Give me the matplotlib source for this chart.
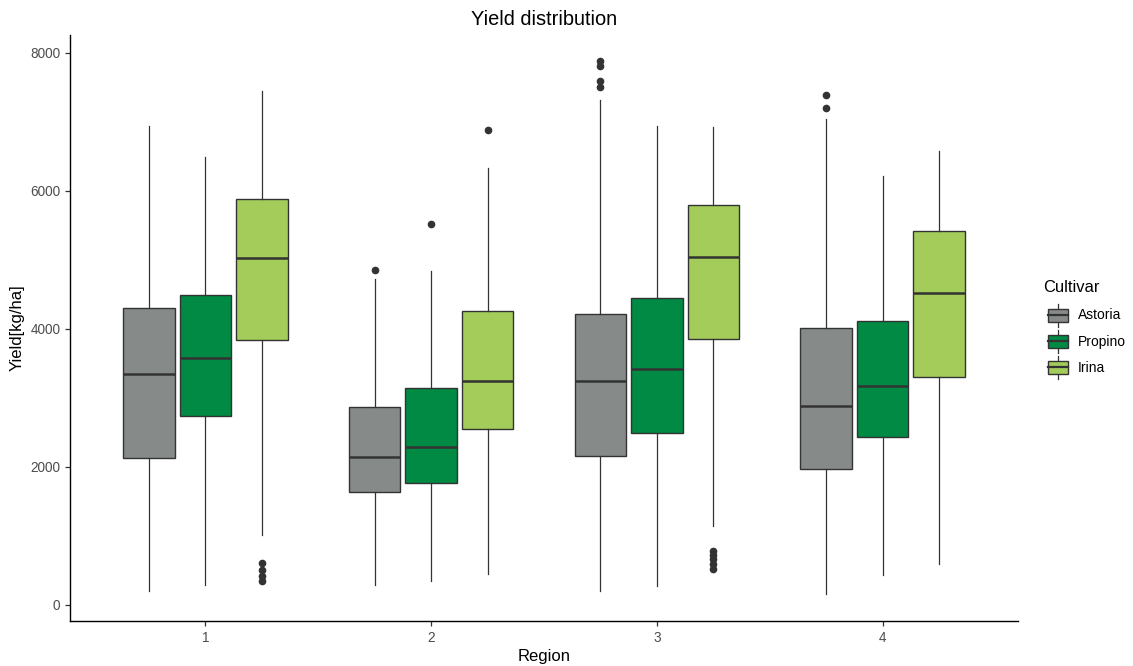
import matplotlib
matplotlib.use("Agg")
import matplotlib.pyplot as plt
from matplotlib.patches import Rectangle, Patch
from matplotlib.lines import Line2D
from matplotlib.legend_handler import HandlerBase

plt.rcParams["font.family"] = ["Liberation Sans", "DejaVu Sans"]

regions = [1, 2, 3, 4]
region_labels = ["1", "2", "3", "4"]
cultivars = ["Astoria", "Propino", "Irina"]
colors = ["#868B89", "#008A43", "#A3CC5A"]

# per cultivar, per region
astoria_whislo = [209, 290, 206, 162]
astoria_q1 = [2135, 1638, 2155, 1974]
astoria_med = [3354, 2145, 3249, 2890]
astoria_q3 = [4300, 2872, 4223, 4014]
astoria_whishi = [6948, 4728, 7320, 7048]
astoria_fliers = [[], [4861], [7878, 7813, 7588, 7503], [7384, 7207]]

propino_whislo = [290, 353, 275, 435]
propino_q1 = [2733, 1763, 2499, 2439]
propino_med = [3578, 2285, 3415, 3178]
propino_q3 = [4499, 3140, 4454, 4111]
propino_whishi = [6493, 4845, 6945, 6217]
propino_fliers = [[], [5522], [], []]

irina_whislo = [1012, 449, 1143, 591]
irina_q1 = [3845, 2546, 3859, 3301]
irina_med = [5033, 3246, 5049, 4523]
irina_q3 = [5878, 4256, 5798, 5423]
irina_whishi = [7455, 6338, 6929, 6581]
irina_fliers = [[610, 503, 423, 342], [6884], [778, 725, 670, 591, 516], []]

series = [
    (astoria_whislo, astoria_q1, astoria_med, astoria_q3, astoria_whishi, astoria_fliers),
    (propino_whislo, propino_q1, propino_med, propino_q3, propino_whishi, propino_fliers),
    (irina_whislo, irina_q1, irina_med, irina_q3, irina_whishi, irina_fliers),
]

EDGE = "#333333"
fig = plt.figure(figsize=(11.33, 6.66), dpi=100)
ax = fig.add_axes([70/1133, 1-621/666, (1018-70)/1133, (621-35)/666])

offsets = [-0.25, 0.0, 0.25]
for ci, (lo, q1, med, q3, hi, fl) in enumerate(series):
    stats = []
    for ri in range(len(regions)):
        stats.append(dict(whislo=lo[ri], q1=q1[ri], med=med[ri], q3=q3[ri],
                          whishi=hi[ri], fliers=fl[ri]))
    pos = [r + offsets[ci] for r in regions]
    ax.bxp(stats, positions=pos, widths=0.228, patch_artist=True,
           showcaps=False, manage_ticks=False,
           boxprops=dict(facecolor=colors[ci], edgecolor=EDGE, linewidth=1.0),
           medianprops=dict(color=EDGE, linewidth=1.8),
           whiskerprops=dict(color=EDGE, linewidth=0.9),
           flierprops=dict(marker="o", markerfacecolor=EDGE, markeredgecolor=EDGE,
                           markersize=4.5, linestyle="none"))

ax.set_xlim(0.4, 4.6)
ax.set_ylim(-232, 8260)
ax.set_xticks(regions)
ax.set_xticklabels(region_labels)
ax.set_yticks([0, 2000, 4000, 6000, 8000])
for s in ["top", "right"]:
    ax.spines[s].set_visible(False)
for s in ["left", "bottom"]:
    ax.spines[s].set_color("#000000")
    ax.spines[s].set_linewidth(1.0)
ax.tick_params(axis="both", colors="#333333", labelcolor="#4D4D4D",
               labelsize=9.8, length=3.5, width=0.9)
ax.set_xlabel("Region", fontsize=12, color="#000000", labelpad=3)
ax.set_ylabel("Yield[kg/ha]", fontsize=12, color="#000000", labelpad=4)
ax.set_title("Yield distribution", fontsize=14.4, color="#000000", pad=7)


class BoxHandler(HandlerBase):
    def create_artists(self, legend, orig_handle, xdescent, ydescent,
                       width, height, fontsize, trans):
        fc = orig_handle.get_facecolor()
        x0 = -xdescent
        cx = x0 + width / 2
        y0 = -ydescent
        h = height
        b0 = y0 + h * 0.22
        b1 = y0 + h * 0.78
        rect = Rectangle((x0, b0), width, b1 - b0,
                         facecolor=fc, edgecolor=EDGE, linewidth=1.0, transform=trans)
        wl1 = Line2D([cx, cx], [y0, b0], color=EDGE, lw=0.9, transform=trans)
        wl2 = Line2D([cx, cx], [b1, y0 + h], color=EDGE, lw=0.9, transform=trans)
        md = Line2D([x0, x0 + width], [(b0 + b1) / 2] * 2, color=EDGE, lw=1.6,
                    transform=trans)
        return [wl1, wl2, rect, md]


handles = [Patch(facecolor=c, edgecolor=EDGE, label=n) for c, n in zip(colors, cultivars)]
leg = fig.legend(handles=handles, labels=cultivars,
                 loc="upper left", bbox_to_anchor=(1035/1133, 1-291/666),
                 frameon=False, fontsize=10,
                 handler_map={Patch: BoxHandler()}, handlelength=1.44,
                 handleheight=2.2, labelspacing=0.2, handletextpad=0.72)
fig.text(1043/1133, 1-287/666, "Cultivar", fontsize=11.9, color="#000000",
         ha="left", va="center")

fig.savefig("out.png", dpi=100)
